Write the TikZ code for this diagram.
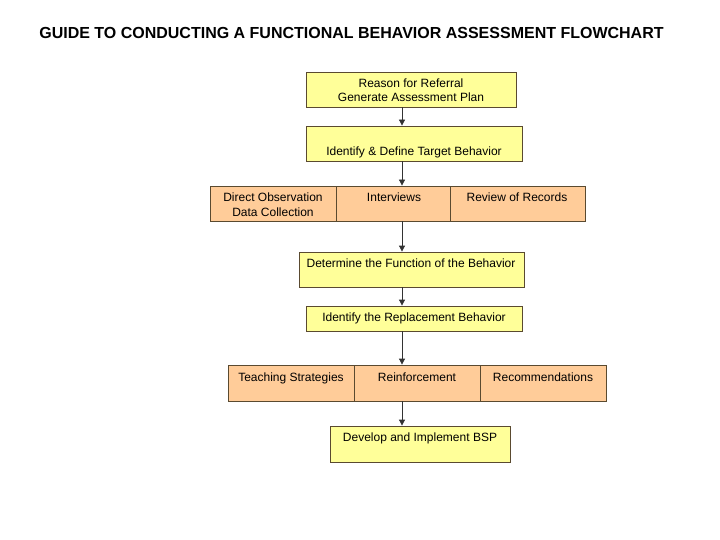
\documentclass[tikz,border=0pt]{standalone}
\usepackage{fontspec}
\setmainfont{Liberation Sans}
\usetikzlibrary{arrows.meta}
\definecolor{ylw}{HTML}{FFFF99}
\definecolor{org}{HTML}{FFCC99}
\definecolor{edge}{HTML}{5A4A30}
\begin{document}
\begin{tikzpicture}[x=1pt,y=-1pt,
  yb/.style={draw=edge,line width=0.8pt,fill=ylw,inner sep=0pt},
  ob/.style={draw=edge,line width=0.8pt,fill=org,inner sep=0pt},
  lbl/.style={font=\fontsize{12}{14.5}\selectfont,align=center,inner sep=0pt},
  bl/.style={lbl,anchor=base},
  arr/.style={-{Triangle[length=6pt,width=6pt]},line width=0.8pt,draw=black!80}]
\useasboundingbox (0,0) rectangle (720,540);
\node[font=\fontsize{16}{18}\selectfont\bfseries,inner sep=0pt] (title) at (351.5,33) {GUIDE TO CONDUCTING A FUNCTIONAL BEHAVIOR ASSESSMENT FLOWCHART};
\coordinate (ax) at (402,0);
% boxes
\node[yb,minimum width=210pt,minimum height=35pt] (b1) at (411,89.5) {};
\node[yb,minimum width=216pt,minimum height=35pt] (b2) at (414,143.5) {};
\node[ob,minimum width=126pt,minimum height=35pt] (r1a) at (273,203.5) {};
\node[ob,minimum width=114pt,minimum height=35pt] (r1b) at (393,203.5) {};
\node[ob,minimum width=135pt,minimum height=35pt] (r1c) at (517.5,203.5) {};
\node[yb,minimum width=225pt,minimum height=35pt] (b4) at (411.5,269.5) {};
\node[yb,minimum width=216pt,minimum height=25pt] (b5) at (414,318.5) {};
\node[ob,minimum width=126pt,minimum height=36pt] (r2a) at (291,383) {};
\node[ob,minimum width=126pt,minimum height=36pt] (r2b) at (417,383) {};
\node[ob,minimum width=126pt,minimum height=36pt] (r2c) at (543,383) {};
\node[yb,minimum width=180pt,minimum height=36pt] (b7) at (420,444) {};
% labels
\node[lbl] (t1) at (411,90) {Reason for Referral\\Generate Assessment Plan};
\node[bl] (t2) at (414,155.5) {Identify \& Define Target Behavior};
\node[lbl] (t3a) at (273,204.5) {Direct Observation\\Data Collection};
\node[bl] (t3b) at (394,201.5) {Interviews};
\node[bl] (t3c) at (517,201.5) {Review of Records};
\node[bl] (t4) at (411,267.5) {Determine the Function of the Behavior};
\node[bl] (t5) at (414,321.5) {Identify the Replacement Behavior};
\node[bl] (t6a) at (291,381.5) {Teaching Strategies};
\node[bl] (t6b) at (417,381.5) {Reinforcement};
\node[bl] (t6c) at (543,381.5) {Recommendations};
\node[bl] (t7) at (420,441.5) {Develop and Implement BSP};
% arrows
\draw[arr] (b1.south -| ax) -- (b2.north -| ax);
\draw[arr] (b2.south -| ax) -- (r1b.north -| ax);
\draw[arr] (r1b.south -| ax) -- (b4.north -| ax);
\draw[arr] (b4.south -| ax) -- (b5.north -| ax);
\draw[arr] (b5.south -| ax) -- (r2b.north -| ax);
\draw[arr] (r2b.south -| ax) -- (b7.north -| ax);
\end{tikzpicture}
\end{document}
